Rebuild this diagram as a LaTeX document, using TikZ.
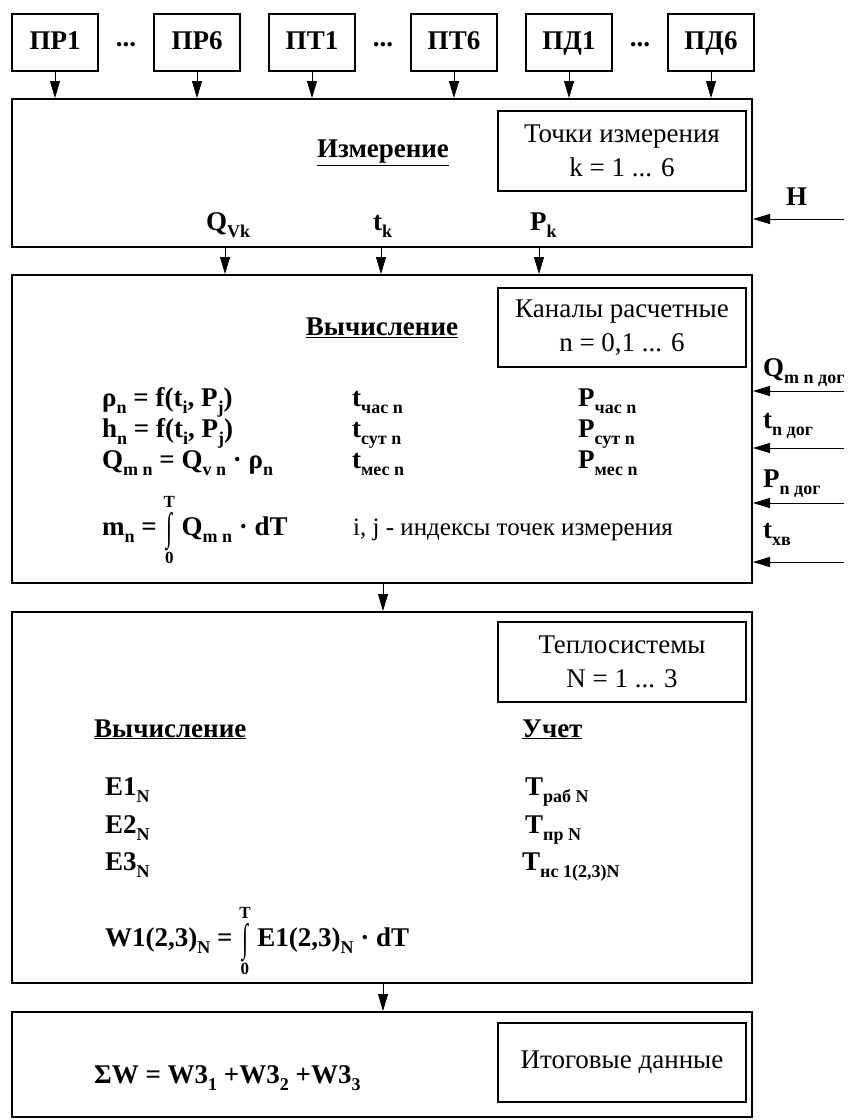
\documentclass[tikz,border=0pt]{standalone}
\usepackage{fontspec}
\setmainfont{Liberation Serif}
\usetikzlibrary{arrows.meta,positioning}
\newcommand{\sbs}[1]{\raisebox{-7pt}{\fontsize{18}{18}\selectfont #1}}
\newcommand{\intsign}{\raisebox{-5pt}{\scalebox{0.8}[1.45]{∫}}}
\newcommand{\intlim}[2]{\ensuremath{\mathop{\hbox{\intsign}}\limits_{\hbox{\fontsize{17}{17}\selectfont #1}}^{\hbox{\raisebox{3pt}{\fontsize{17}{17}\selectfont #2}}}}}

\begin{document}
\begin{tikzpicture}[
	x=1pt, y=-1pt,
	font=\fontsize{27}{30}\selectfont\bfseries,
	sensor/.style={ draw, line width=2pt, minimum width=86pt, minimum height=57pt, inner sep=0pt, text height=19pt, text depth=5pt },
	block/.style={ draw, line width=2pt, minimum width=740pt, inner sep=0pt },
	info/.style={ draw, line width=2pt, minimum width=248pt, minimum height=80pt, inner sep=0pt, align=center, font=\fontsize{27}{34}\selectfont\mdseries },
	arr/.style={ -{Triangle[length=17pt,width=10pt]}, line width=0.9pt },
	lbl/.style={ anchor=base west, inner sep=0pt }
]
\useasboundingbox (0,0) rectangle (865,1120);

\node[sensor] at (55,42.5) (pr1) {ПР1};
\node[sensor] at (197,42.5) (pr6) {ПР6};
\node[sensor] at (312,42.5) (pt1) {ПТ1};
\node[sensor] at (454,42.5) (pt6) {ПТ6};
\node[sensor] at (569,42.5) (pd1) {ПД1};
\node[sensor] at (711,42.5) (pd6) {ПД6};
\node at (126,45) (d1) {...};
\node at (383,45) (d2) {...};
\node at (640,45) (d3) {...};

\node[block, minimum height=148pt] at (382,173) (meas) {};
\foreach \s in {pr1,pr6,pt1,pt6,pd1,pd6}
	\draw[arr] (\s.south) -- (\s.south |- meas.north);
\node[info] at (622,151) (pts) {Точки измерения\\k = 1 ... 6};
\node at (383,153) (mtitle) {\underline{Измерение}};
\node[lbl] at (206,230) (qv) {Q\sbs{Vk}};
\node[lbl] at (373,230) (tk) {t\sbs{k}};
\node[lbl] at (530,230) (pk) {P\sbs{k}};
\node[lbl] at (786,205) (hl) {Н};
\coordinate (hin) at (844,219);
\draw[arr] (hin) -- (hin -| meas.east);

\node[block, minimum height=308pt] at (382,429) (calc) {};
\coordinate (o1) at (225,247);
\coordinate (o2) at (381,247);
\coordinate (o3) at (539,247);
\foreach \o in {o1,o2,o3}
	\draw[arr] (\o) -- (\o |- calc.north);
\node[info, minimum height=79pt] at (622,327.5) (chan) {Каналы расчетные\\n = 0,1 ... 6};
\node at (382,328) (ctitle) {\underline{Вычисление}};
\node[lbl] at (102,406) (rho) {ρ\sbs{n} = f(t\sbs{i}, P\sbs{j})};
\node[lbl] at (102,437) (hn) {h\sbs{n} = f(t\sbs{i}, P\sbs{j})};
\node[lbl] at (102,468) (qm) {Q\sbs{m n} = Q\sbs{v n} · ρ\sbs{n}};
\node[lbl] at (102,535) (mn) {m\sbs{n} = \intlim{0}{T} Q\sbs{m n} · dT};
\node[lbl] at (352,406) (th) {t\sbs{час n}};
\node[lbl] at (352,437) (td) {t\sbs{сут n}};
\node[lbl] at (352,468) (tm) {t\sbs{мес n}};
\node[lbl] at (578,406) (ph) {P\sbs{час n}};
\node[lbl] at (578,437) (pdy) {P\sbs{сут n}};
\node[lbl] at (578,468) (pm) {P\sbs{мес n}};
\node[lbl, font=\fontsize{25}{28}\selectfont\mdseries] at (353,535) (ij) {i, j - индексы точек измерения};
\node[lbl] at (763,376) (qd) {Q\sbs{m n дог}};
\node[lbl] at (763,428) (tdg) {t\sbs{n дог}};
\node[lbl] at (763,487) (pdg) {P\sbs{n дог}};
\node[lbl] at (763,538) (txv) {t\sbs{хв}};
\coordinate (i1) at (844,391);
\coordinate (i2) at (844,448);
\coordinate (i3) at (844,503);
\coordinate (i4) at (844,562);
\foreach \i in {i1,i2,i3,i4}
	\draw[arr] (\i) -- (\i -| calc.east);

\node[block, minimum height=371pt] at (382,797.5) (sys) {};
\draw[arr] (calc.south -| 383,0) -- (sys.north -| 383,0);
\node[info] at (622,662) (heat) {Теплосистемы\\N = 1 ... 3};
\node[lbl] at (94,737) (stitle) {\underline{Вычисление}};
\node[lbl] at (522,737) (utitle) {\underline{Учет}};
\node[lbl] at (105,795) (e1) {E1\sbs{N}};
\node[lbl] at (105,833) (e2) {E2\sbs{N}};
\node[lbl] at (105,870) (e3) {E3\sbs{N}};
\node[lbl] at (525,795) (tr) {T\sbs{раб N}};
\node[lbl] at (525,833) (tp) {T\sbs{пр N}};
\node[lbl] at (522,870) (tn) {T\sbs{нс 1(2,3)N}};
\node[lbl] at (105,946) (w1) {W1(2,3)\sbs{N} = \intlim{0}{T} E1(2,3)\sbs{N} · dT};

\node[block, minimum height=105pt] at (382,1064.5) (total) {};
\draw[arr] (sys.south -| 383,0) -- (total.north -| 383,0);
\node[info, minimum height=79pt] at (622,1062.5) (res) {Итоговые данные};
\node[lbl] at (94,1083) (sw) {ΣW = W3\sbs{1} +W3\sbs{2} +W3\sbs{3}};

\end{tikzpicture}
\end{document}
